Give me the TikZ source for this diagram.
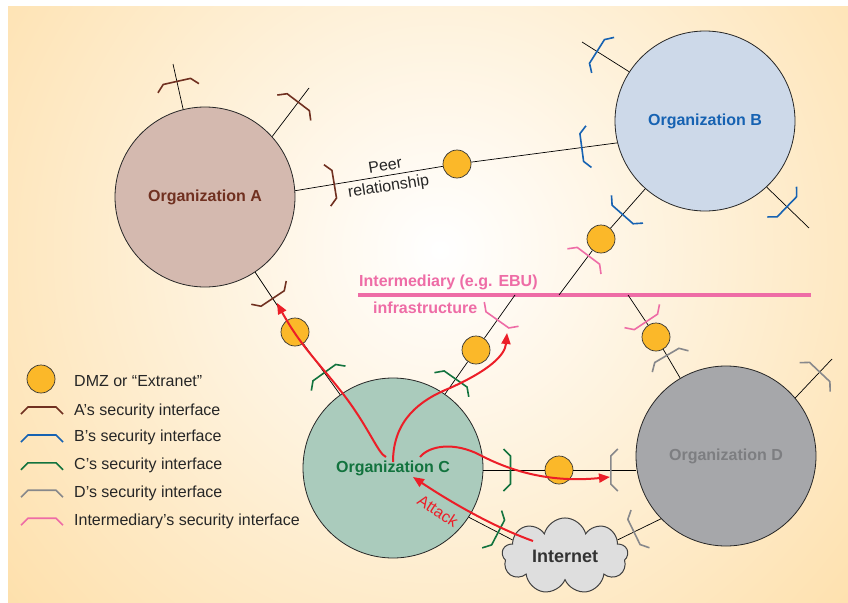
\documentclass[tikz,border=0pt]{standalone}
\usepackage{fontspec}
\setmainfont{Liberation Sans}
\usetikzlibrary{calc,shapes.symbols,arrows.meta}

\definecolor{bgorange}{RGB}{253,215,148}
\definecolor{colA}{RGB}{112,48,32}
\definecolor{colB}{RGB}{22,98,178}
\definecolor{colC}{RGB}{18,115,62}
\definecolor{colD}{RGB}{135,136,139}
\definecolor{colI}{RGB}{238,108,166}
\definecolor{labelD}{RGB}{125,126,129}
\definecolor{fillA}{RGB}{212,185,175}
\definecolor{fillB}{RGB}{205,217,233}
\definecolor{fillC}{RGB}{170,203,188}
\definecolor{fillD}{RGB}{166,167,170}
\definecolor{dmzorange}{RGB}{251,184,41}
\definecolor{attackred}{RGB}{236,30,40}

\tikzset{
  org/.style={circle, draw=black!85, line width=0.8pt, minimum size=180pt, inner sep=0pt,
    font=\fontsize{16}{19}\selectfont\bfseries},
  dmz/.style={circle, draw=black!80, line width=0.7pt, fill=dmzorange, minimum size=28pt, inner sep=0pt},
  link/.style={draw=black, line width=0.7pt},
  intbar/.style={draw=colI, line width=4pt},
  secline/.style={line width=1.6pt, line join=miter},
  secA/.style={secline, draw=colA},
  secB/.style={secline, draw=colB},
  secC/.style={secline, draw=colC},
  secD/.style={secline, draw=colD},
  secI/.style={secline, draw=colI},
  attack/.style={draw=attackred, line width=2pt, -{Triangle[length=11pt,width=9pt]}},
  keytext/.style={anchor=base west, inner sep=0pt, text=black!85, font=\fontsize{16}{19}\selectfont},
  inttext/.style={anchor=base west, inner sep=0pt, text=colI, font=\fontsize{16}{19}\selectfont\bfseries},
}

% security interface: style, side it opens to, other end of the line, position on the line
\newcommand{\secif}[4]{%
  \coordinate (secmid) at ($(#2)!#4!(#3)$);
  \draw[#1] ($(secmid)!3.5pt!(#2)!21pt!90:(#2)$) -- ($(secmid)!-3.5pt!(#2)!14pt!90:(#2)$)
    -- ($(secmid)!-3.5pt!(#2)!14pt!-90:(#2)$) -- ($(secmid)!3.5pt!(#2)!21pt!-90:(#2)$);
}

\begin{document}
\begin{tikzpicture}[x=1pt, y=-1pt]
  \useasboundingbox (0,0) rectangle (848,602);
  \fill[bgorange] (8,7) rectangle (848,602);
  \begin{scope}
    \clip (8,7) rectangle (848,602);
    \shade[inner color=white, outer color=bgorange] (440,250) circle (720pt);
  \end{scope}

  % Organizations
  \node (orgA) [org, fill=fillA, text=colA] at (205,197) {Organization A};
  \node (orgB) [org, fill=fillB, text=colB] at (705,121) {Organization B};
  \node (orgC) [org, fill=fillC, text=colC] at (393,468) {Organization C};
  \node (orgD) [org, fill=fillD, text=labelD] at (726,456) {Organization D};

  % DMZs
  \node (dmzAB) [dmz] at (457,164) {};
  \node (dmzBI) [dmz] at (601,239) {};
  \node (dmzID) [dmz] at (656,337) {};
  \node (dmzAC) [dmz] at (295,332) {};
  \node (dmzCI) [dmz] at (476,350) {};
  \node (dmzCD) [dmz] at (559,470) {};

  \node (inet) [cloud, cloud puffs=9, aspect=1.7, draw=black!75, line width=1pt, fill=black!13,
    minimum width=126pt, minimum height=74pt, inner sep=0pt, text=black!80,
    font=\fontsize{18}{21}\selectfont\bfseries] at (565,556) {Internet};

  % Intermediary
  \coordinate (barL) at (358,295);
  \coordinate (barR) at (811,295);
  \coordinate (barB) at (559,295);
  \coordinate (barC) at (515,295);
  \coordinate (barD) at (628,295);
  \draw[intbar] (barL) -- (barR);
  \node (intname) [inttext] at (359,286.7) {Intermediary (e.g. EBU)};
  \node (intinfra) [inttext] at (373,313.3) {infrastructure};

  % Lines
  \coordinate (aTop) at (173,64);
  \coordinate (aNE) at (309,88);
  \coordinate (bNW) at (582,42);
  \coordinate (bSE) at (809,228);
  \coordinate (dNE) at (832,359);
  \coordinate (cdC) at (dmzCD -| orgC.east);
  \coordinate (cdD) at (dmzCD -| orgD.west);

  \draw[link] (orgA.4) -- (dmzAB) -- (orgB.194);
  \draw[link] (orgA) -- (dmzAC) -- (orgC);
  \draw[link] (orgB) -- (dmzBI) -- (barB);
  \draw[link] (barC) -- (dmzCI) -- (orgC);
  \draw[link] (barD) -- (dmzID) -- (orgD);
  \draw[link] (cdC) -- (dmzCD) -- (cdD);
  \draw[link] (orgC.-33) -- (inet.163);
  \draw[link] (orgD.224) -- (inet.17);
  \draw[link] (orgA.104) -- (aTop);
  \draw[link] (orgA.42) -- (aNE);
  \draw[link] (orgB.147) -- (bNW);
  \draw[link] (orgB.-47) -- (bSE);
  \draw[link] (orgD.40) -- (dNE);

  \node (peer) [rotate=9, align=center, inner sep=0pt, text=black!85,
    font=\fontsize{16}{21}\selectfont] at (387,177) {Peer\\relationship};

  % Security interfaces
  \secif{secA}{orgA.104}{aTop}{0.54}
  \secif{secA}{orgA.42}{aNE}{0.65}
  \secif{secA}{orgA.4}{dmzAB.center}{0.22}
  \secif{secA}{orgA.center}{dmzAC.center}{0.73}

  \secif{secB}{orgB.147}{bNW}{0.62}
  \secif{secB}{orgB.-47}{bSE}{0.42}
  \secif{secB}{orgB.194}{dmzAB.center}{0.2}
  \secif{secB}{orgB.center}{dmzBI.center}{0.77}

  \secif{secC}{orgC.center}{dmzAC.center}{0.68}
  \secif{secC}{orgC.center}{dmzCI.center}{0.73}
  \secif{secC}{cdC}{cdD}{0.155}
  \secif{secC}{orgC.-33}{inet.163}{0.6}

  \secif{secD}{orgD.center}{dmzID.center}{0.82}
  \secif{secD}{orgD.40}{dNE}{0.6}
  \secif{secD}{cdD}{cdC}{0.14}
  \secif{secD}{orgD.224}{inet.17}{0.55}

  \secif{secI}{barB}{dmzBI.center}{0.65}
  \secif{secI}{barC}{dmzCI.center}{0.4}
  \secif{secI}{barD}{dmzID.center}{0.57}

  % Attacks
  \coordinate (cOutA) at (386,457);
  \coordinate (cOutI) at (393,462);
  \coordinate (cOutD) at (420,457);
  \coordinate (hitA) at (277,303);
  \coordinate (hitI) at (507,333);
  \coordinate (hitD) at (610,477);
  \coordinate (inetOut) at (533,541);
  \coordinate (hitC) at (413,477);
  \draw[attack] (cOutA) .. controls (378,454) and (368,425) .. (340,390)
    .. controls (318,362) and (300,345) .. (hitA);
  \draw[attack] (cOutI) .. controls (393,420) and (420,400) .. (450,388)
    .. controls (490,370) and (505,355) .. (hitI);
  \draw[attack] (cOutD) .. controls (430,445) and (455,442) .. (480,455)
    .. controls (520,476) and (560,482) .. (hitD);
  \draw[attack] (inetOut) .. controls (494,527) and (452,503) .. (hitC);
  \node (atk) [rotate=-33, inner sep=0pt, text=attackred, font=\fontsize{16}{19}\selectfont]
    at (438,511) {Attack};

  % Legend
  \node (keyDMZ) [dmz] at (41,379) {};
  \node (keyDMZtext) [keytext] at (74,386.5) {DMZ or “Extranet”};
  \secif{secA}{42,440.5}{42,380.5}{0.5}
  \node (keyAtext) [keytext] at (74,415) {A’s security interface};
  \secif{secB}{42,468.5}{42,408.5}{0.5}
  \node (keyBtext) [keytext] at (74,441) {B’s security interface};
  \secif{secC}{42,496.3}{42,436.3}{0.5}
  \node (keyCtext) [keytext] at (74,469.5) {C’s security interface};
  \secif{secD}{42,523.7}{42,463.7}{0.5}
  \node (keyDtext) [keytext] at (74,497.5) {D’s security interface};
  \secif{secI}{42,551.7}{42,491.7}{0.5}
  \node (keyItext) [keytext] at (74,525.5) {Intermediary’s security interface};
\end{tikzpicture}
\end{document}
